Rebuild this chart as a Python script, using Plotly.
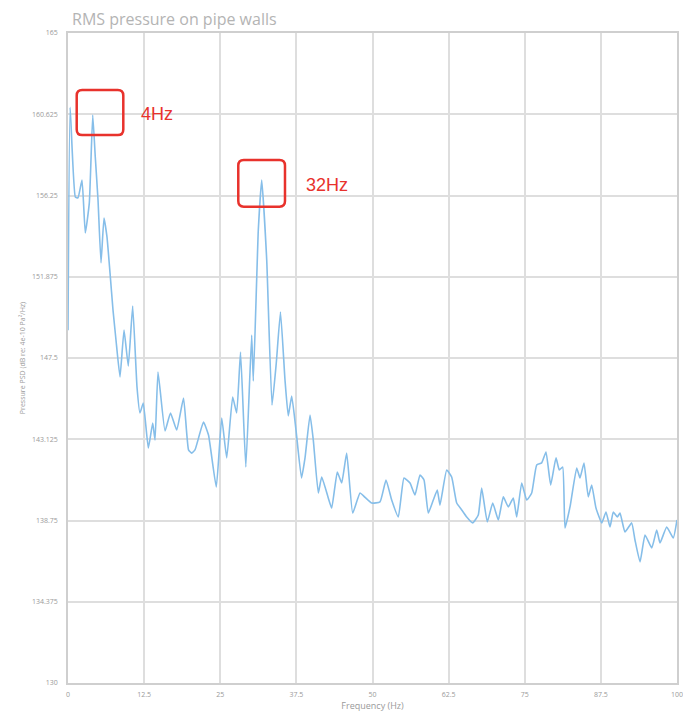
import plotly.graph_objects as go

# ---- data ----
freq_hz = [0.0, 0.35, 1.2, 1.64, 2.30, 2.84, 3.50, 4.06, 4.48, 4.93, 5.42, 5.91, 6.40, 6.90,
           7.39, 7.88, 8.54, 9.20, 9.90, 10.62, 11.33, 11.82, 12.36, 13.19, 13.91, 14.29,
           14.78, 15.93, 16.83, 17.85, 18.97, 19.79, 20.31, 20.85, 22.25, 23.07, 24.35,
           25.24, 26.06, 27.04, 27.70, 28.33, 29.20, 30.16, 30.43, 31.25, 31.81, 32.63,
           33.50, 34.20, 34.89, 35.63, 36.17, 36.73, 37.44, 38.34, 38.92, 39.74, 40.28,
           41.10, 41.66, 42.74, 43.30, 44.22, 44.94, 45.76, 46.75, 47.95, 48.77, 49.87,
           51.23, 52.22, 53.15, 54.24, 55.17, 56.16, 56.98, 57.80, 58.46, 59.16, 59.98,
           60.64, 61.08, 62.18, 63.00, 63.83, 64.65, 65.47, 66.45, 67.37, 67.93, 68.85,
           69.74, 70.66, 71.48, 72.30, 73.12, 73.68, 74.50, 75.32, 76.14, 76.96, 77.78,
           78.49, 79.26, 80.13, 80.67, 81.23, 81.61, 82.43, 83.53, 84.07, 84.73, 85.43,
           85.99, 86.70, 87.64, 88.34, 89.00, 89.54, 90.20, 90.64, 91.46, 92.56, 93.10,
           93.93, 94.75, 95.85, 96.67, 97.21, 98.31, 99.39, 100.0]

psd_db = [149.0, 161.0, 156.17, 156.12, 157.08, 154.23, 155.85, 160.58, 158.32, 156.01,
          152.62, 155.04, 154.02, 152.08, 150.08, 148.47, 146.48, 149.01, 147.07, 150.30,
          145.94, 144.54, 145.08, 142.65, 144.0, 143.08, 146.75, 143.57, 144.54, 143.62,
          145.35, 142.55, 142.38, 142.55, 144.05, 143.35, 140.55, 144.27, 142.12, 145.40,
          144.54, 147.82, 141.63, 148.74, 146.26, 154.39, 157.08, 152.78, 144.97, 147.23,
          149.98, 146.32, 144.38, 145.45, 143.62, 141.04, 142.12, 144.43, 143.08, 140.23,
          141.09, 139.96, 139.42, 141.36, 140.77, 142.38, 139.15, 140.23, 140.0, 139.69,
          139.75, 140.93, 139.85, 138.94, 141.04, 140.77, 140.12, 141.20, 140.93, 139.15,
          139.85, 140.39, 139.58, 141.47, 141.09, 139.69, 139.32, 138.94, 138.62, 139.05,
          140.50, 138.67, 139.69, 138.78, 140.02, 139.48, 139.96, 138.94, 140.77, 139.85,
          140.23, 141.74, 141.85, 142.44, 140.66, 142.12, 141.47, 141.63, 138.35, 139.48,
          141.58, 141.04, 141.85, 140.02, 140.66, 139.42, 138.62, 139.21, 138.40, 139.21,
          138.94, 139.15, 138.13, 138.62, 137.70, 136.52, 137.97, 137.27, 138.24, 137.54,
          138.40, 137.81, 138.78]

x_tick_vals = [0, 12.5, 25, 37.5, 50, 62.5, 75, 87.5, 100]
x_tick_text = ["0", "12.5", "25", "37.5", "50", "62.5", "75", "87.5", "100"]
y_tick_vals = [130, 134.375, 138.75, 143.125, 147.5, 151.875, 156.25, 160.625, 165]
y_tick_text = ["130", "134.375", "138.75", "143.125", "147.5", "151.875", "156.25", "160.625", "165"]

peak_labels = ["4Hz", "32Hz"]
peak_label_x = [14.6, 42.5]
peak_label_y = [160.64, 156.8]
# highlight boxes: [x0, x1, y0, y1]
peak_boxes = [[1.43, 9.08, 159.51, 161.93], [27.96, 35.63, 155.65, 158.16]]

RED = "#e8322c"
GRID = "#dedede"
TXT = "#9a9a9a"

# the page body has an 8px default margin, so the figure is sized to fit the window
W, H = 683, 707

fig = go.Figure()
fig.add_trace(go.Scatter(x=freq_hz, y=psd_db, mode="lines",
                         line=dict(color="#86bee9", width=1.6, shape="spline", smoothing=0.4),
                         hoverinfo="x+y", showlegend=False))


def rounded_box(x0, x1, y0, y1, rx=0.9, ry=0.3):
    return (f"M {x0+rx},{y0} L {x1-rx},{y0} Q {x1},{y0} {x1},{y0+ry} "
            f"L {x1},{y1-ry} Q {x1},{y1} {x1-rx},{y1} L {x0+rx},{y1} "
            f"Q {x0},{y1} {x0},{y1-ry} L {x0},{y0+ry} Q {x0},{y0} {x0+rx},{y0} Z")


for b in peak_boxes:
    fig.add_shape(type="path", xref="x", yref="y", path=rounded_box(*b),
                  line=dict(color=RED, width=2.5))

for t, xx, yy in zip(peak_labels, peak_label_x, peak_label_y):
    fig.add_annotation(x=xx, y=yy, xref="x", yref="y", text=t, showarrow=False,
                       font=dict(family="Liberation Sans, Arial", size=18, color=RED))

fig.update_layout(
    width=W, height=H,
    margin=dict(l=60, r=14, t=25, b=32, autoexpand=False),
    paper_bgcolor="white", plot_bgcolor="white",
    title=dict(text="RMS pressure on pipe walls", x=64 / W, xanchor="left",
               y=1 - 11 / H, yanchor="middle", xref="container", yref="container",
               font=dict(family="Open Sans", size=16, color="#b4b4b4")),
    font=dict(family="Open Sans", color=TXT),
)
fig.update_xaxes(range=[0, 100], tickvals=x_tick_vals, ticktext=x_tick_text,
                 automargin=False,
                 showgrid=True, gridcolor=GRID, gridwidth=1.5,
                 showline=True, linecolor="#cfcfcf", linewidth=1.5, mirror=True,
                 zeroline=False, ticks="", tickfont=dict(size=7, color=TXT),
                 ticklabelstandoff=4,
                 title=dict(text="Frequency (Hz)", font=dict(size=9, color=TXT), standoff=2))
fig.update_yaxes(range=[130, 165], tickvals=y_tick_vals, ticktext=y_tick_text,
                 automargin=False,
                 showgrid=True, gridcolor=GRID, gridwidth=1.5,
                 showline=True, linecolor="#cfcfcf", linewidth=1.5, mirror=True,
                 zeroline=False, ticks="", tickfont=dict(size=7, color=TXT),
                 ticklabelstandoff=7,
                 title=dict(text="Pressure PSD (dB re: 4e-10 Pa²/Hz)",
                            font=dict(size=7, color=TXT), standoff=6))

fig.write_html("out.html")
